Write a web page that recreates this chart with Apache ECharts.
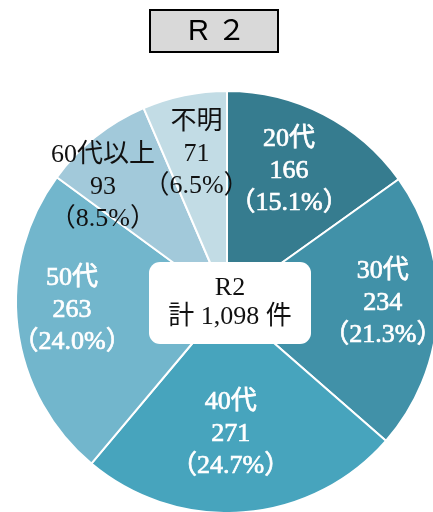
<!DOCTYPE html>
<html><head><meta charset="utf-8">
<script src="https://cdn.jsdelivr.net/npm/echarts@6/dist/echarts.min.js"></script>
<style>html,body{margin:0;padding:0;background:#fff;}#c{width:433px;height:512px;}</style>
</head><body><div id="c"></div>
<script>
const title = 'R ２';
const centerTitle = 'R2';
const categories = ['20代', '30代', '40代', '50代', '60代以上', '不明'];
const values = [166, 234, 271, 263, 93, 71];

const colors = ['#367c8f', '#4191a8', '#47a4bd', '#72b6cc', '#a2c9da', '#c2dce5'];
const labelColors = ['#fff', '#fff', '#fff', '#fff', '#111', '#111'];
const labelStroke = [0.7, 0.7, 0.7, 0.7, 0, 0];
const labelOffsets = [[-7, 3], [5, -6], [-8, -18], [-5, -10], [-30, 3], [0, 0]];

const total = values.reduce((a, b) => a + b, 0);
const serif = '"Liberation Serif", "Noto Sans CJK JP", serif';
const CX = 227, CY = 302, R = 211;

const chart = echarts.init(document.getElementById('c'), null, {renderer: 'canvas'});
chart.setOption({
  animation: false,
  series: [
    {
      type: 'pie', center: [CX, CY], radius: [0, R], startAngle: 90, clockwise: true,
      silent: true,
      label: {show: false}, labelLine: {show: false},
      itemStyle: {borderColor: '#fff', borderWidth: 2},
      data: categories.map((c, i) => ({name: c, value: values[i], itemStyle: {color: colors[i]}}))
    },
    {
      type: 'pie', center: [CX, CY], radius: [85, R], startAngle: 90, clockwise: true,
      silent: true, z: 5, avoidLabelOverlap: false,
      labelLine: {show: false},
      labelLayout: {hideOverlap: false},
      itemStyle: {color: 'rgba(0,0,0,0)', borderWidth: 0},
      emphasis: {disabled: true},
      data: categories.map((c, i) => ({
        name: c, value: values[i],
        label: {
          show: true, position: 'inside',
          formatter: c + '\n' + values[i] + '\n（' + (values[i] / total * 100).toFixed(1) + '%）',
          color: labelColors[i], fontWeight: 'normal',
          textBorderColor: labelColors[i], textBorderWidth: labelStroke[i],
          fontFamily: serif, fontSize: 26, lineHeight: 32,
          offset: labelOffsets[i]
        }
      }))
    }
  ],
  graphic: [
    {type: 'rect', shape: {x: 150, y: 10, width: 128, height: 42}, style: {fill: '#d9d9d9', stroke: '#000', lineWidth: 2}, z: 10},
    {type: 'text', x: 217, y: 32, style: {text: title, fill: '#000', font: '29px "Liberation Sans", "Noto Sans CJK JP", sans-serif', textAlign: 'center', textVerticalAlign: 'middle'}, z: 11},
    {type: 'rect', shape: {x: 149, y: 262, width: 162, height: 82, r: 11}, style: {fill: '#fff'}, z: 10},
    {type: 'text', x: 230, y: 288, style: {text: centerTitle, fill: '#111', font: '26px ' + serif, textAlign: 'center', textVerticalAlign: 'middle'}, z: 11},
    {type: 'text', x: 230, y: 317, style: {text: '計 ' + total.toLocaleString('en-US') + ' 件', fill: '#111', font: '26px ' + serif, textAlign: 'center', textVerticalAlign: 'middle'}, z: 11}
  ]
});
</script></body></html>
